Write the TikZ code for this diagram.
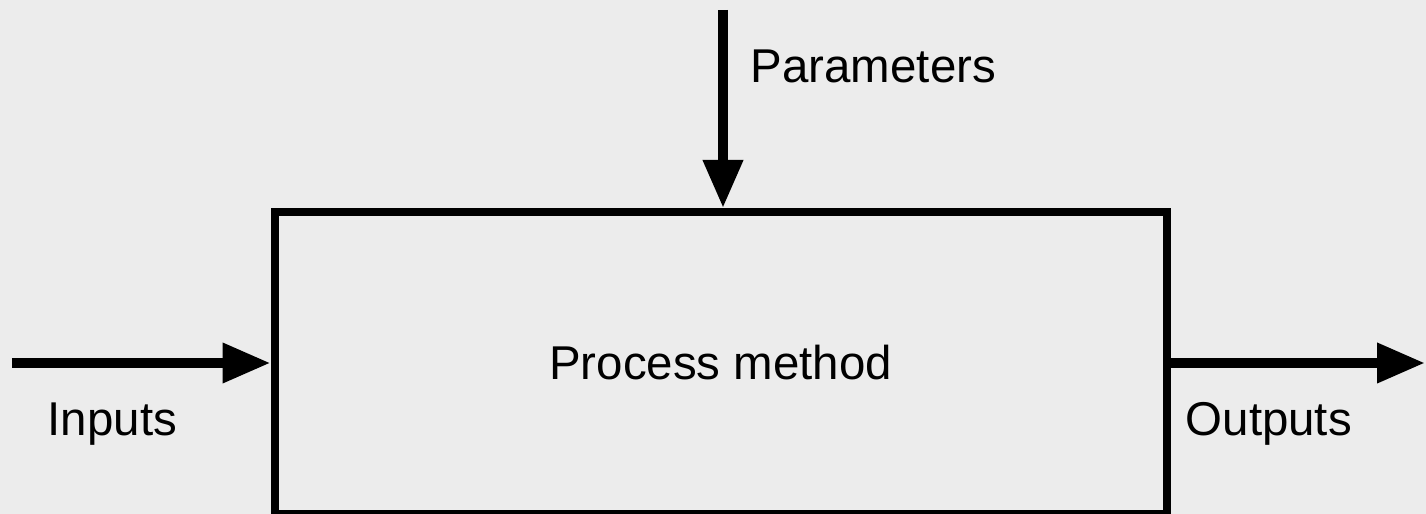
\documentclass[tikz,border=0pt]{standalone}
\usepackage{fontspec}
\setmainfont{Liberation Sans}
\usepackage{xcolor}
\usepackage{tikz}
\usetikzlibrary{arrows.meta, calc}
\definecolor{bg-gray}{RGB}{236,236,236}
\tikzset{
  %Process block
  process-box/.style={rectangle, draw=black, line width=0.08cm, minimum width=8.925cm, minimum height=3.02cm, inner sep=0pt},
  flow-arrow/.style={-{Triangle[length=4.8mm, width=3.8mm]}, line width=0.1cm, black},
  flow-label/.style={anchor=base west, inner sep=0pt, font=\fontsize{13.5}{16}\selectfont}
}
\begin{document}
\begin{tikzpicture}
    % --- Background ---
    \fill[bg-gray] (0,0) rectangle (14.26,5.14);
    \useasboundingbox (0,0) rectangle (14.26,5.14);

    % --- Process block ---
    \node[process-box, font=\fontsize{13.5}{16}\selectfont] (proc) at (7.2075, 1.51) {Process method};

    % --- Arrow ends ---
    \coordinate (param-in) at (7.23, 5.04);
    \coordinate (data-in) at (0.12, 1.51);
    \coordinate (data-out) at (14.25, 1.51);

    % --- Arrows ---
    \draw[flow-arrow] (param-in) -- (param-in |- proc.north);
    \draw[flow-arrow] (data-in) -- (proc.west);
    \draw[flow-arrow] (proc.east) -- (data-out);

    % --- Labels ---
    \node[flow-label] (param-lbl) at (7.50, 4.31) {Parameters};
    \node[flow-label] (in-lbl) at (0.47, 0.78) {Inputs};
    \node[flow-label] (out-lbl) at (11.85, 0.78) {Outputs};
\end{tikzpicture}
\end{document}
